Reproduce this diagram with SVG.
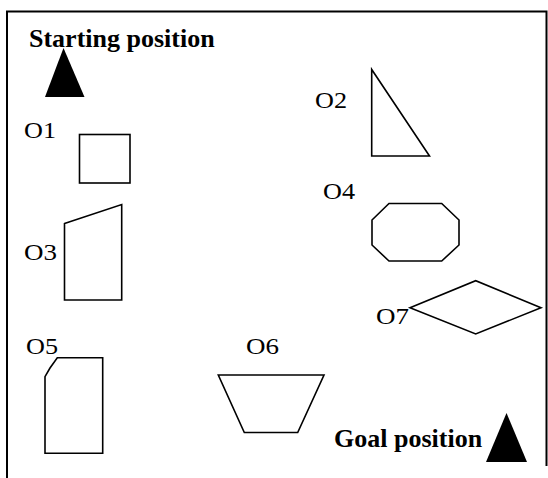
<svg xmlns="http://www.w3.org/2000/svg" width="548" height="478" viewBox="0 0 548 478">
<style>
.shape{fill:none;stroke:#000;stroke-width:1.6;stroke-linejoin:miter}
.solid{fill:#000;stroke:none}
.lbl{font-family:"Liberation Serif","Times New Roman",serif;font-size:24px;fill:#000}
.big{font-family:"Liberation Serif","Times New Roman",serif;font-size:26px;font-weight:bold;fill:#000}
.frame{fill:none;stroke:#000;stroke-width:2}
</style>
<rect width="548" height="478" fill="#fff"/>
<path class="frame" d="M7,478 V11.5 H546.5 V466"/>
<g id="start">
<text class="big" x="29" y="46.5">Starting position</text>
<polygon class="solid" points="63.5,48 45,97 84.5,97"/>
</g>
<g id="goal">
<text class="big" x="334" y="447">Goal position</text>
<polygon class="solid" points="506.5,413 486,462 527,462"/>
</g>
<g id="O1">
<text class="lbl" x="24" y="138" textLength="32" lengthAdjust="spacingAndGlyphs">O1</text>
<rect class="shape" x="79.5" y="134.5" width="50.5" height="48.5"/>
</g>
<g id="O2">
<text class="lbl" x="315" y="108" textLength="32" lengthAdjust="spacingAndGlyphs">O2</text>
<polygon class="shape" points="371.7,69.5 371.7,156 429.5,156"/>
</g>
<g id="O3">
<text class="lbl" x="24" y="260" textLength="33" lengthAdjust="spacingAndGlyphs">O3</text>
<polygon class="shape" points="64.5,223.5 121.7,204.5 121.7,300 64.5,300"/>
</g>
<g id="O4">
<text class="lbl" x="323" y="199" textLength="32" lengthAdjust="spacingAndGlyphs">O4</text>
<polygon class="shape" points="389,203.5 441.7,203.5 459,220 459,245 441.7,261 389,261 372,245 372,220"/>
</g>
<g id="O5">
<text class="lbl" x="26" y="354" textLength="32" lengthAdjust="spacingAndGlyphs">O5</text>
<polygon class="shape" points="57.3,357.7 102.7,357.7 102.7,453.3 45,453.3 45,376.7 50,368"/>
</g>
<g id="O6">
<text class="lbl" x="246" y="354" textLength="33" lengthAdjust="spacingAndGlyphs">O6</text>
<polygon class="shape" points="218.3,375 324,375 297.7,432.5 244.3,432.5"/>
</g>
<g id="O7">
<text class="lbl" x="376" y="324" textLength="33" lengthAdjust="spacingAndGlyphs">O7</text>
<polygon class="shape" points="410,307.7 475.7,280.7 541,307.7 475.7,334"/>
</g>
</svg>
